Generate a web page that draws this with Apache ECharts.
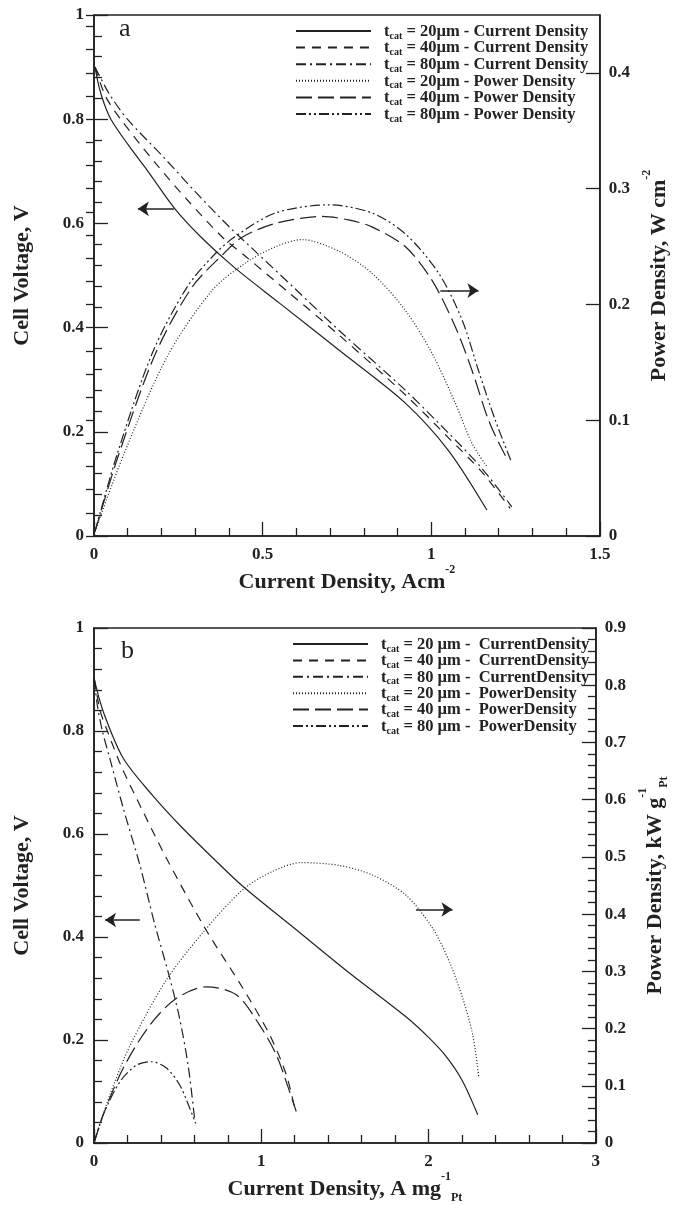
<!DOCTYPE html>
<html>
<head>
<meta charset="utf-8">
<script src="https://cdn.jsdelivr.net/npm/echarts@6/dist/echarts.min.js"></script>
<style>
  html, body { margin: 0; padding: 0; background: #fff; }
  #chart { width: 678px; height: 1205px; }
</style>
</head>
<body>
<div id="chart"></div>
<script>
// panel a: cell voltage (V) and power density (W cm-2) vs current density (A cm-2)
var aCd20 = [[0.003,0.90],[0.015,0.862],[0.03,0.83],[0.05,0.80],[0.1,0.752],[0.16,0.70],[0.24,0.628],[0.32,0.572],[0.415,0.516],[0.55,0.447],[0.73,0.355],[0.92,0.257],[1.05,0.165],[1.165,0.05]];
var aCd40 = [[0.003,0.90],[0.035,0.843],[0.079,0.80],[0.183,0.715],[0.281,0.642],[0.38,0.574],[0.449,0.537],[0.578,0.467],[0.726,0.386],[0.923,0.271],[1.052,0.188],[1.15,0.123],[1.234,0.053]];
var aCd80 = [[0.003,0.90],[0.044,0.85],[0.099,0.80],[0.205,0.728],[0.30,0.661],[0.40,0.594],[0.469,0.552],[0.597,0.474],[0.726,0.395],[0.923,0.28],[1.052,0.197],[1.15,0.13],[1.239,0.056]];
var aPd20 = [[0.003,0.004],[0.089,0.071],[0.217,0.155],[0.35,0.212],[0.45,0.236],[0.54,0.25],[0.617,0.256],[0.726,0.246],[0.824,0.227],[0.923,0.195],[1.002,0.158],[1.071,0.115],[1.121,0.08],[1.165,0.06]];
var aPd40 = [[0.003,0.004],[0.074,0.071],[0.183,0.158],[0.291,0.215],[0.385,0.244],[0.439,0.258],[0.538,0.27],[0.676,0.276],[0.755,0.273],[0.824,0.267],[0.923,0.25],[1.002,0.221],[1.071,0.181],[1.121,0.143],[1.17,0.10],[1.219,0.07],[1.234,0.066]];
var aPd80 = [[0.003,0.004],[0.069,0.071],[0.173,0.158],[0.276,0.215],[0.36,0.244],[0.42,0.259],[0.538,0.279],[0.696,0.286],[0.824,0.279],[0.923,0.261],[1.022,0.227],[1.091,0.187],[1.14,0.143],[1.19,0.10],[1.239,0.063]];

// panel b: cell voltage (V) and power density (kW g-1 Pt) vs current density (A mg-1 Pt)
var bCd20 = [[0.0,0.902],[0.056,0.837],[0.175,0.747],[0.35,0.675],[0.513,0.617],[0.712,0.553],[0.891,0.498],[1.209,0.414],[1.5,0.337],[1.865,0.245],[2.0,0.205],[2.1,0.17],[2.2,0.122],[2.294,0.055]];
var bCd40 = [[0.003,0.90],[0.036,0.84],[0.08,0.80],[0.165,0.73],[0.294,0.643],[0.433,0.553],[0.662,0.418],[0.891,0.30],[1.05,0.21],[1.15,0.132],[1.205,0.06]];
var bCd80 = [[0.002,0.90],[0.02,0.85],[0.05,0.80],[0.096,0.745],[0.175,0.65],[0.274,0.54],[0.363,0.425],[0.453,0.32],[0.513,0.24],[0.563,0.15],[0.602,0.045]];
var bPd20 = [[0.0,0.0],[0.05,0.045],[0.096,0.085],[0.215,0.17],[0.433,0.285],[0.652,0.368],[0.891,0.443],[1.07,0.475],[1.239,0.49],[1.468,0.485],[1.667,0.468],[1.865,0.433],[2.025,0.375],[2.124,0.317],[2.204,0.253],[2.264,0.189],[2.30,0.116]];
var bPd40 = [[0.0,0.0],[0.056,0.05],[0.175,0.131],[0.334,0.206],[0.493,0.253],[0.672,0.273],[0.851,0.259],[0.99,0.206],[1.09,0.154],[1.169,0.09],[1.209,0.055]];
var bPd80 = [[0.0,0.0],[0.056,0.05],[0.155,0.107],[0.254,0.136],[0.344,0.142],[0.433,0.131],[0.513,0.101],[0.572,0.061],[0.608,0.034]];

var namesA = ['t_cat = 20µm - Current Density', 't_cat = 40µm - Current Density', 't_cat = 80µm - Current Density',
              't_cat = 20µm - Power Density', 't_cat = 40µm - Power Density', 't_cat = 80µm - Power Density'];
var namesB = ['t_cat = 20 µm -  CurrentDensity', 't_cat = 40 µm -  CurrentDensity', 't_cat = 80 µm -  CurrentDensity',
              't_cat = 20 µm -  PowerDensity', 't_cat = 40 µm -  PowerDensity', 't_cat = 80 µm -  PowerDensity'];

// arrows [from, to]
var arrowA1 = [[0.237, 0.628], [0.13, 0.628]];
var arrowA2 = [[1.027, 0.212], [1.14, 0.212]];
var arrowB1 = [[0.274, 0.433], [0.066, 0.433]];
var arrowB2 = [[1.925, 0.408], [2.143, 0.408]];

var serif = '"Liberation Serif", "Times New Roman", serif';
var ink = '#222';

var dashes = [
    'solid',
    [9, 7],
    [10, 4, 2, 4],
    [1, 2],
    [16, 6],
    [10, 3, 2, 3, 2, 3]
];

var myChart = echarts.init(document.getElementById('chart'));

function curve(name, data, xi, yi, k, extra) {
    var s = {
        name: name,
        type: 'line',
        xAxisIndex: xi,
        yAxisIndex: yi,
        data: data,
        showSymbol: false,
        symbol: 'none',
        smooth: 0.3,
        silent: true,
        lineStyle: { color: ink, width: 1.2, type: dashes[k] },
        itemStyle: { color: ink }
    };
    if (extra) s.markLine = arrowMark(extra);
    return s;
}

function arrowMark(a) {
    return {
        silent: true,
        symbol: ['none', 'arrow'],
        symbolSize: 11,
        label: { show: false },
        itemStyle: { color: ink },
        lineStyle: { color: ink, width: 1.5, type: 'solid' },
        data: [[{ coord: a[0] }, { coord: a[1] }]]
    };
}

var labelStyle = { fontFamily: serif, fontWeight: 'bold', fontSize: 17, color: ink };
var nameRich = {
    n: { fontFamily: serif, fontWeight: 'bold', fontSize: 22, color: ink, padding: [7, 0, 4, 0] },
    p: { fontFamily: serif, fontWeight: 'bold', fontSize: 12, color: ink, verticalAlign: 'top' },
    s: { fontFamily: serif, fontWeight: 'bold', fontSize: 12, color: ink, verticalAlign: 'bottom' }
};

function valueAxis(o) {
    var ax = {
        type: 'value',
        splitLine: { show: false },
        axisLine: { show: true, onZero: false, lineStyle: { color: ink, width: 1.6 } },
        axisTick: { show: true, inside: true, length: 14, lineStyle: { color: ink, width: 1.3 } },
        minorTick: { show: true, splitNumber: 5, length: 8, lineStyle: { color: ink, width: 1.3 } },
        axisLabel: Object.assign({ margin: 10 }, labelStyle),
        nameLocation: 'middle',
        nameTextStyle: { rich: nameRich }
    };
    return Object.assign(ax, o);
}

var legendRich = {
    f: { fontFamily: serif, fontWeight: 'bold', fontSize: 16.5, color: ink, lineHeight: 16, verticalAlign: 'top', padding: [0, 0, 0, 8] },
    r: { fontFamily: serif, fontWeight: 'bold', fontSize: 16.5, color: ink, lineHeight: 16, verticalAlign: 'top' },
    s: { fontFamily: serif, fontWeight: 'bold', fontSize: 10, color: ink, lineHeight: 10, verticalAlign: 'top', padding: [8, 0, 0, 0] }
};

function legendText(name) {
    return '{f|t}{s|cat}{r|' + name.replace('t_cat', '') + '}';
}

function legendBox(names, left, top, gap) {
    return {
        orient: 'vertical',
        left: left,
        top: top,
        padding: 0,
        itemWidth: 75,
        itemHeight: 10,
        itemGap: gap,
        selectedMode: false,
        itemStyle: { opacity: 0 },
        data: names,
        formatter: legendText,
        textStyle: { rich: legendRich }
    };
}

var option = {
    animation: false,
    backgroundColor: '#fff',
    grid: [
        { left: 94, top: 15, width: 507, height: 521, show: true, borderColor: ink, borderWidth: 1.6 },
        { left: 94, top: 628, width: 504, height: 515, show: true, borderColor: ink, borderWidth: 1.6 }
    ],
    legend: [legendBox(namesA, 295, 23, -1.4), legendBox(namesB, 292, 636, -1.6)],
    xAxis: [
        valueAxis({ gridIndex: 0, min: 0, max: 1.5, interval: 0.5,
            name: '{n|Current Density, Acm}{p|-2}', nameGap: 24 }),
        valueAxis({ gridIndex: 1, min: 0, max: 3, interval: 1,
            name: '{n|Current Density, A mg}{p|-1}{s|Pt}', nameGap: 22 })
    ],
    yAxis: [
        valueAxis({ gridIndex: 0, position: 'left', min: 0, max: 1, interval: 0.2,
            name: '{n|Cell Voltage, V}', nameGap: 57 }),
        valueAxis({ gridIndex: 0, position: 'right', min: 0, max: 0.45, interval: 0.1,
            minorTick: { show: false },
            axisLabel: Object.assign({ margin: 9, showMaxLabel: false }, labelStyle),
            name: '{n|Power Density, W cm}{p|-2}', nameGap: 36 }),
        valueAxis({ gridIndex: 0, position: 'right', min: 0, max: 0.45, interval: 0.02,
            axisLine: { show: false },
            axisTick: { show: true, inside: true, length: 8, lineStyle: { color: ink, width: 1.3 } },
            minorTick: { show: false },
            axisLabel: { show: false } }),
        valueAxis({ gridIndex: 1, position: 'left', min: 0, max: 1, interval: 0.2,
            name: '{n|Cell Voltage, V}', nameGap: 57 }),
        valueAxis({ gridIndex: 1, position: 'right', min: 0, max: 0.9, interval: 0.1,
            axisLabel: Object.assign({ margin: 9 }, labelStyle),
            name: '{n|Power Density, kW g}{p|-1}{s|Pt}', nameGap: 36 })
    ],
    graphic: [
        { type: 'text', left: 119, top: 16, style: { text: 'a', font: '26px ' + serif, fill: ink } },
        { type: 'text', left: 121, top: 638, style: { text: 'b', font: '26px ' + serif, fill: ink } }
    ],
    series: [
        curve(namesA[0], aCd20, 0, 0, 0, arrowA1),
        curve(namesA[1], aCd40, 0, 0, 1),
        curve(namesA[2], aCd80, 0, 0, 2),
        curve(namesA[3], aPd20, 0, 1, 3, arrowA2),
        curve(namesA[4], aPd40, 0, 1, 4),
        curve(namesA[5], aPd80, 0, 1, 5),
        curve(namesB[0], bCd20, 1, 3, 0, arrowB1),
        curve(namesB[1], bCd40, 1, 3, 1),
        curve(namesB[2], bCd80, 1, 3, 2),
        curve(namesB[3], bPd20, 1, 4, 3, arrowB2),
        curve(namesB[4], bPd40, 1, 4, 4),
        curve(namesB[5], bPd80, 1, 4, 5)
    ]
};

myChart.setOption(option);
</script>
</body>
</html>
